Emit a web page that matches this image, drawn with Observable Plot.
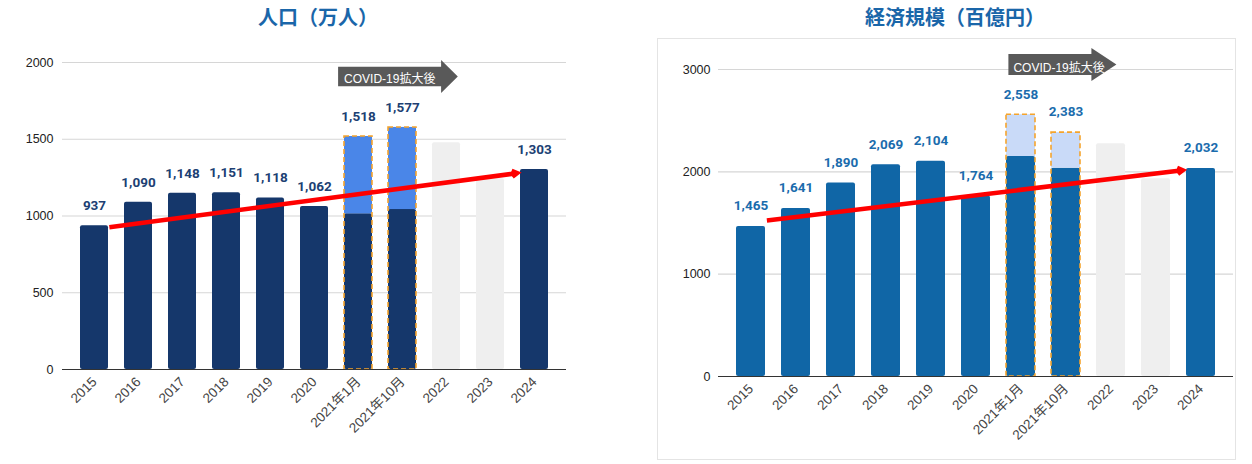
<!DOCTYPE html>
<html><head><meta charset="utf-8">
<script src="https://cdn.jsdelivr.net/npm/d3@7"></script>
<script src="https://cdn.jsdelivr.net/npm/@observablehq/plot@0.6"></script>
<style>
body{margin:0;background:#fff;width:1252px;height:464px;position:relative;overflow:hidden;font-family:Roboto,"Noto Sans CJK JP",sans-serif}
.title{position:absolute;top:5px;height:24px;line-height:24px;font-family:"Noto Sans CJK JP",sans-serif;font-weight:bold;font-size:20px;color:#1a66a9;text-align:center;white-space:nowrap}
#t1{left:0;width:636px}
#t2{left:650px;width:610px}
#c1{position:absolute;left:0;top:30px}
#box2{position:absolute;left:657px;top:38px;width:577px;height:420px;border:1px solid #e4e4e4}
#c2{position:absolute;left:0;top:0}
svg{overflow:visible}
</style></head>
<body>
<div class="title" id="t1">人口（万人）</div>
<div class="title" id="t2">経済規模（百億円）</div>
<div id="c1"></div>
<div id="box2"><div id="c2"></div></div>
<script>
// ---- data ----
const categories = ["2015","2016","2017","2018","2019","2020","2021年1月","2021年10月","2022","2023","2024"];
const covidCategories = ["2021年1月","2021年10月"];
const annotationLabel = "COVID-19拡大後";

// population (万人)
const popBase  = [937,1090,1148,1151,1118,1062,1014,1042,null,null,1303];
const popTotal = [937,1090,1148,1151,1118,1062,1518,1577,null,null,1303];
const popGhost = [null,null,null,null,null,null,null,null,1477,1243,null];
const popTrend = [914,1294];           // trend arrow: value at 2015 → value at 2024
const popTicks = [0,500,1000,1500,2000];

// economy (百億円)
const ecoBase  = [1465,1641,1890,2069,2104,1764,2150,2036,null,null,2032];
const ecoTotal = [1465,1641,1890,2069,2104,1764,2558,2383,null,null,2032];
const ecoGhost = [null,null,null,null,null,null,null,null,2274,1932,null];
const ecoTrend = [1506,2037];
const ecoTicks = [0,1000,2000,3000];

function arrowBox(x0, x1, x2, hr, hh) {
  return {draw(ctx) {
    ctx.moveTo(x0, -hr); ctx.lineTo(x1, -hr); ctx.lineTo(x1, -hh); ctx.lineTo(x2, 0);
    ctx.lineTo(x1, hh); ctx.lineTo(x1, hr); ctx.lineTo(x0, hr); ctx.closePath();
  }};
}

function makeChart(o) {
  const rows = categories.map((c, i) => ({c, base: o.base[i], total: o.total[i], ghost: o.ghost[i], covid: covidCategories.includes(c)}));
  const bars = rows.filter(d => d.base != null);
  const ghosts = rows.filter(d => d.ghost != null);
  const covid = rows.filter(d => d.covid);
  const trend = [{x1: categories[0], y1: o.trend[0], x2: categories[categories.length - 1], y2: o.trend[1]}];
  const ann = [{c: covidCategories[0], label: annotationLabel}];
  return Plot.plot({
    width: o.width, height: o.height,
    marginTop: o.mt, marginBottom: o.mb, marginLeft: o.ml, marginRight: o.mr,
    style: {fontFamily: "'Liberation Sans', Arial, 'Noto Sans CJK JP', sans-serif", fontSize: "12px", background: "transparent", overflow: "visible"},
    x: {domain: categories, paddingInner: o.pi, paddingOuter: o.po, label: null},
    y: {domain: [0, o.ticks[o.ticks.length - 1]], label: null},
    marks: [
      Plot.gridY(o.ticks, {stroke: "#d6d6d6", strokeOpacity: 1, strokeWidth: 1.2}),
      Plot.axisY(o.ticks, {tickSize: 0, tickPadding: o.tp, tickFormat: "d", fill: "#222", fontSize: 12.5, label: null}),
      Plot.axisX({tickSize: 0, tickRotate: -45, tickPadding: 10, fill: "#444", fontSize: 13.5, label: null}),
      Plot.barY(ghosts, {x: "c", y: "ghost", fill: "#efefef", rx: 2}),
      Plot.barY(bars, {x: "c", y: "base", fill: o.dark, rx: 2}),
      Plot.barY(covid, {x: "c", y1: "base", y2: "total", fill: o.light}),
      Plot.barY(covid, {x: "c", y1: 0, y2: "total", fill: "none", stroke: "#f5a42c", strokeWidth: 1.6, strokeDasharray: "5,3"}),
      Plot.ruleY([0], {stroke: "#333", strokeWidth: 1.2}),
      Plot.arrow(trend, {x1: "x1", y1: "y1", x2: "x2", y2: "y2", stroke: "#ff0000", fill: "#ff0000", strokeWidth: 4.5,
        strokeLinecap: "butt", strokeLinejoin: "miter", strokeMiterlimit: 10, headLength: 2, headAngle: 60,
        insetStart: o.insS, insetEnd: o.insE}),
      Plot.text(bars.concat(covid).filter((d, i, a) => a.indexOf(d) === i), {x: "c", y: "total", text: d => d3.format(",")(d.total),
        dy: o.ldy, fill: o.labelColor, fontWeight: "bold", fontSize: 13.5, fontFamily: "Roboto, sans-serif"}),
      Plot.dot(ann, {x: "c", frameAnchor: "top", dy: o.ady, r: 1, symbol: arrowBox(...o.box), fill: "#595959", stroke: "none"}),
      Plot.text(ann, {x: "c", frameAnchor: "top", text: "label", textAnchor: "start", dx: o.tdx, dy: o.tdy,
        fill: "#fff", fontSize: 12, fontFamily: "'Liberation Sans', Arial, 'Noto Sans CJK JP', sans-serif"})
    ]
  });
}

document.getElementById("c1").append(makeChart({
  base: popBase, total: popTotal, ghost: popGhost, trend: popTrend, ticks: popTicks,
  width: 620, height: 434, mt: 32, mb: 95, ml: 62, mr: 54, pi: 0.37, po: 0.33, tp: 9,
  dark: "#15376b", light: "#4a86e8", labelColor: "#203f73", ldy: -20,
  insS: 15, insE: 17.5, ady: 14, box: [-20.4, 82.6, 99.3, 9.7, 16.4], tdx: -14.4, tdy: 12
}));
document.getElementById("c2").append(makeChart({
  base: ecoBase, total: ecoTotal, ghost: ecoGhost, trend: ecoTrend, ticks: ecoTicks,
  width: 577, height: 420, mt: 30, mb: 83, ml: 60, mr: 2, pi: 0.36, po: 0.33, tp: 8,
  dark: "#1066a6", light: "#c9daf8", labelColor: "#1b6cad", ldy: -20.5,
  insS: 16, insE: 18.5, ady: -5, box: [-12.6, 70.4, 95.4, 10.5, 16.4], tdx: -7.6, tdy: -6
}));
</script>
</body></html>
